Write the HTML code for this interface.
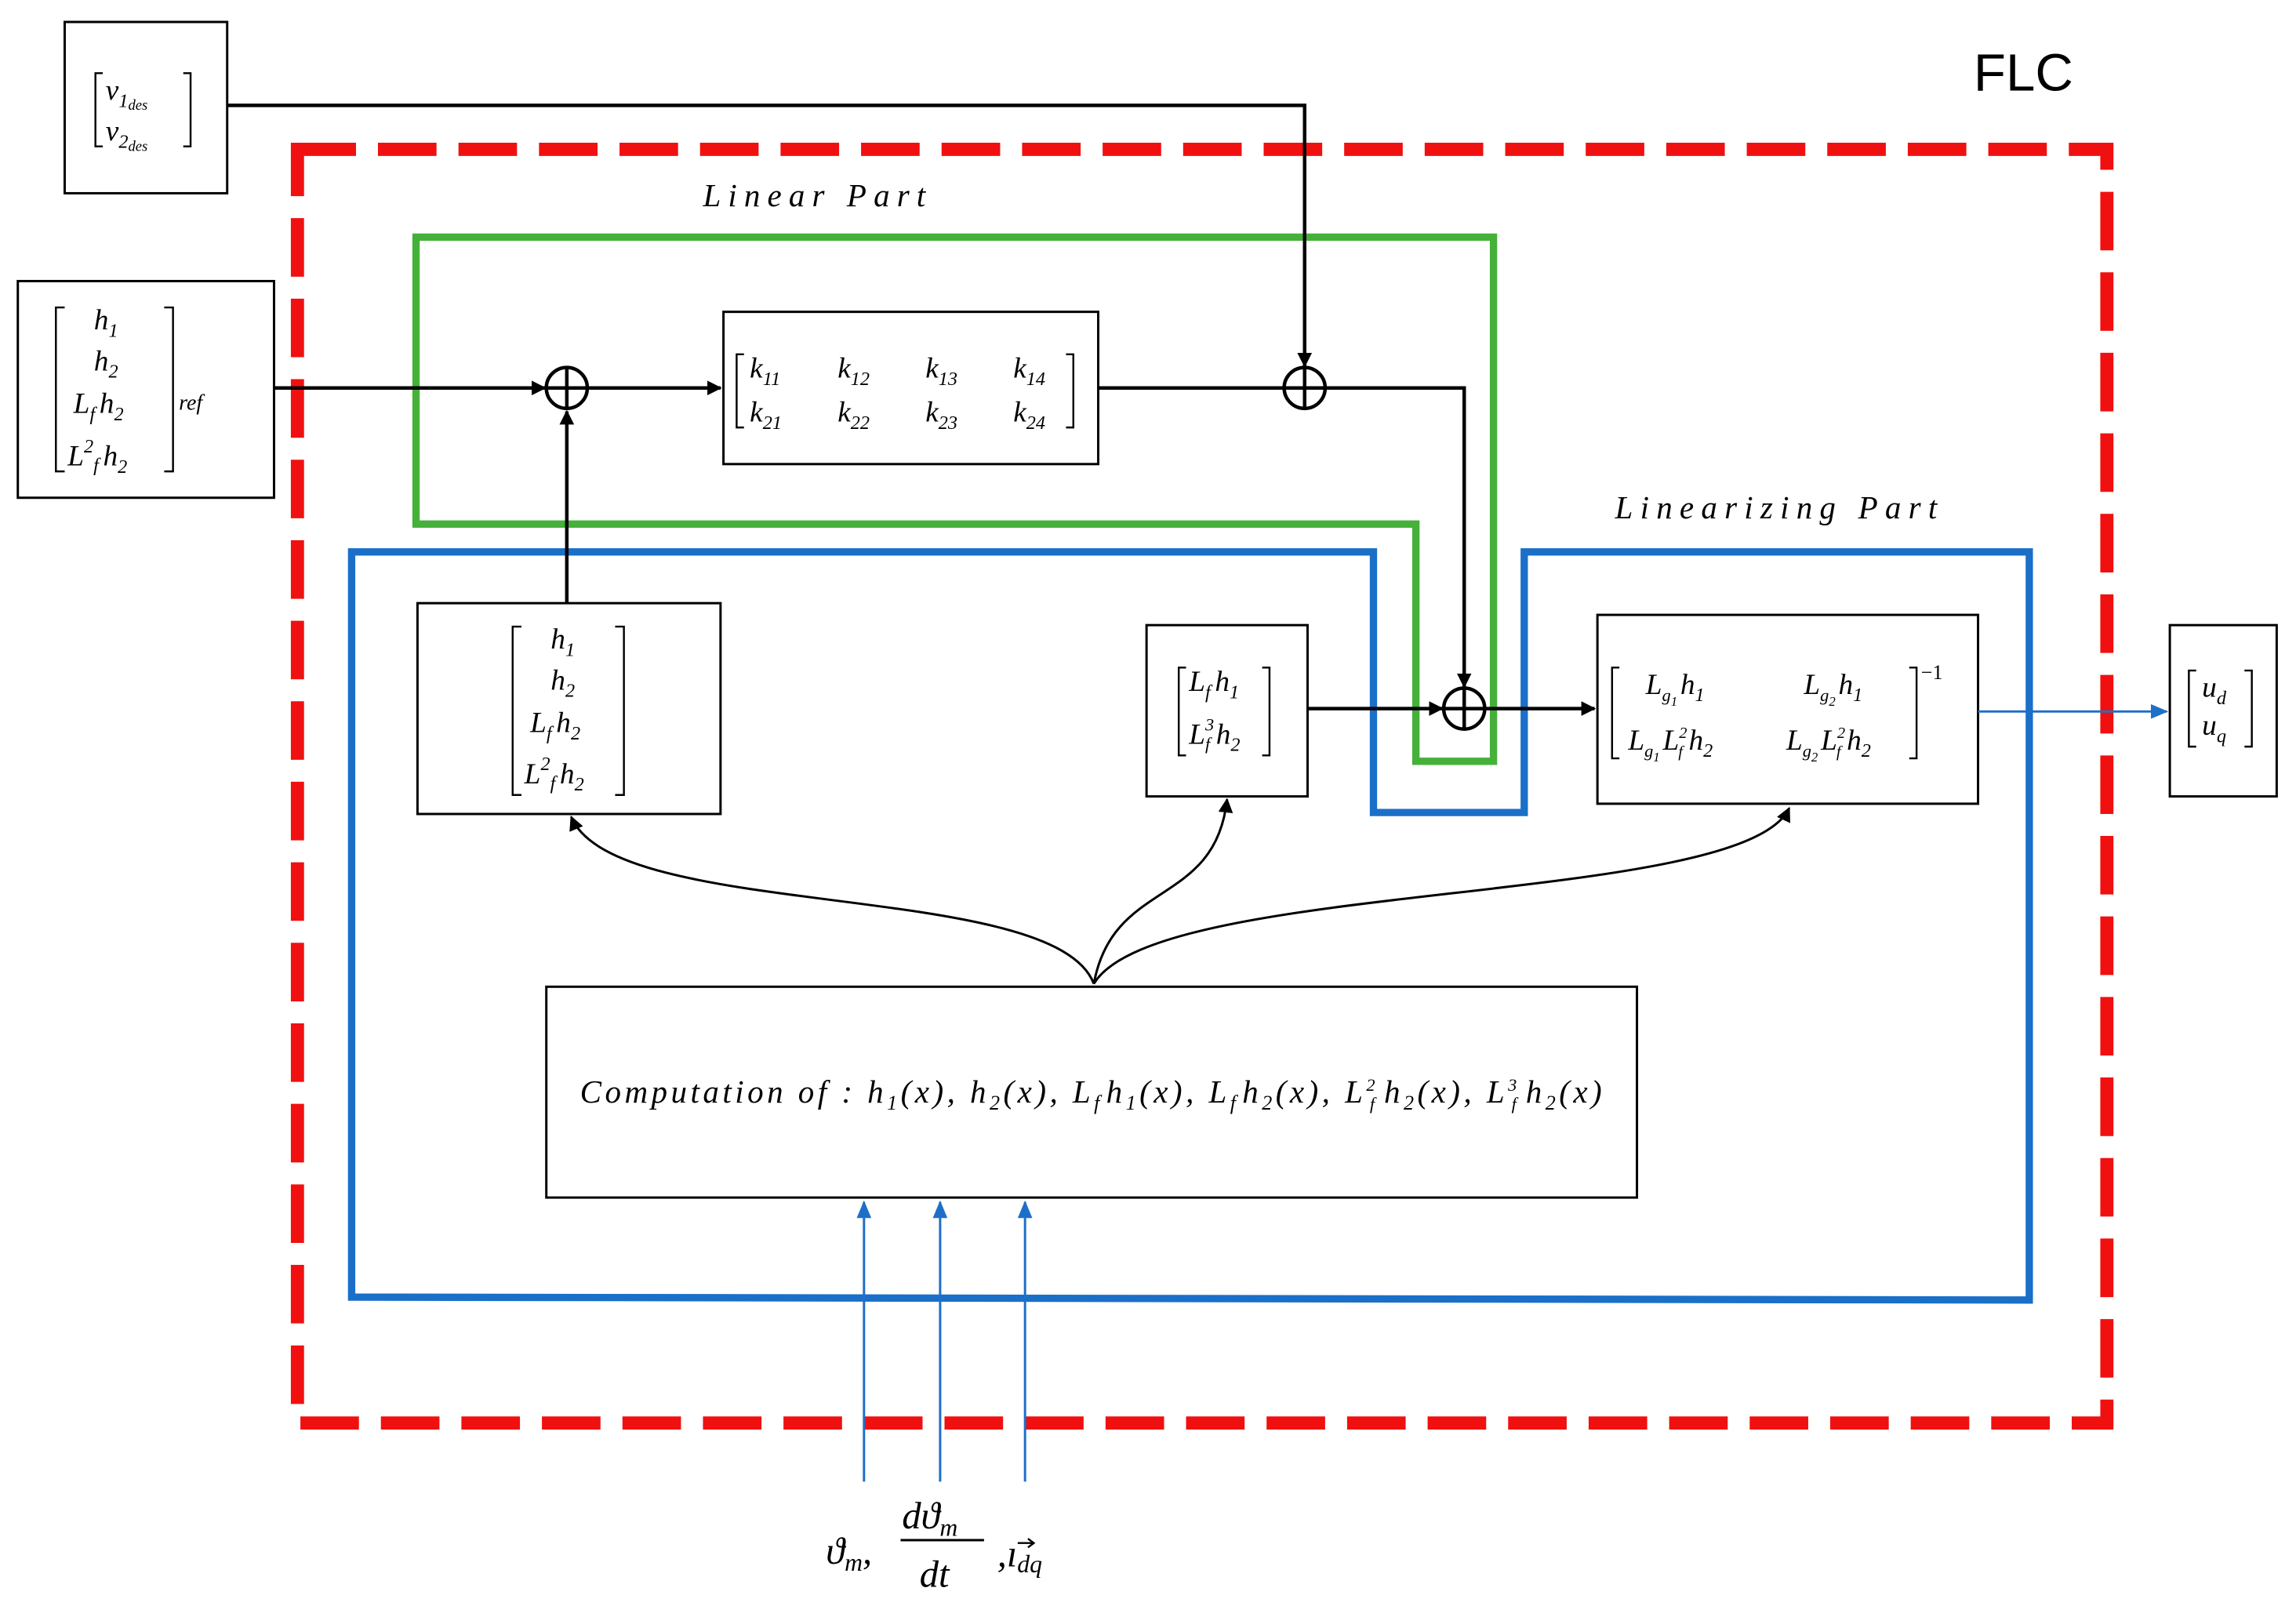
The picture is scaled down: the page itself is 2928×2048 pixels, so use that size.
<!DOCTYPE html>
<html><head><meta charset="utf-8"><style>
html,body{margin:0;padding:0;background:#fff;}
svg{display:block;}
text{font-family:"Liberation Serif",serif;font-style:italic;fill:#000;}
.s{font-family:"Liberation Sans",sans-serif;}
</style></head><body>
<svg width="2928" height="2048" viewBox="0 0 1568 1097" xmlns="http://www.w3.org/2000/svg">
<defs>
<marker id="a" markerWidth="10" markerHeight="10" refX="9" refY="5" orient="auto" markerUnits="userSpaceOnUse"><path d="M0,0 L10,5 L0,10 z" fill="#000"/></marker>
<marker id="b" markerWidth="12" markerHeight="10" refX="11" refY="5" orient="auto" markerUnits="userSpaceOnUse"><path d="M0,0 L12,5 L0,10 z" fill="#1e6fc7"/></marker>
</defs>
<rect width="1568" height="1097" fill="#fff"/>
<rect x="203" y="102" width="1236" height="870" fill="none" stroke="#f01010" stroke-width="9" stroke-dasharray="40,15"/>
<text class="s" x="1348" y="62" font-size="36" style="font-style:normal">FLC</text>
<text x="480" y="141" font-size="22" textLength="152" lengthAdjust="spacing">Linear Part</text>
<text x="1103" y="354" font-size="22" textLength="220" lengthAdjust="spacing">Linearizing Part</text>
<path d="M284,162 L1020,162 L1020,520 L967,520 L967,358 L284,358 Z" fill="none" stroke="#45b03a" stroke-width="5"/>
<path d="M240,377 L938,377 L938,555 L1041,555 L1041,377 L1386,377 L1386,888 L240,886 Z" fill="none" stroke="#1a6fc8" stroke-width="5"/>
<g fill="#fff" stroke="#000" stroke-width="1.6">
<rect x="44" y="15" width="111" height="117"/>
<rect x="12" y="192" width="175" height="148"/>
<rect x="494" y="213" width="256" height="104"/>
<rect x="285" y="412" width="207" height="144"/>
<rect x="783" y="427" width="110" height="117"/>
<rect x="1091" y="420" width="260" height="129"/>
<rect x="1482" y="427" width="73" height="117"/>
<rect x="373" y="674" width="745" height="144"/>
</g>
<g fill="none" stroke="#000" stroke-width="2.4">
<path d="M155,72 L891,72 L891,250" marker-end="url(#a)"/>
<path d="M187,265 L372,265" marker-end="url(#a)"/>
<path d="M401,265 L492,265" marker-end="url(#a)"/>
<path d="M750,265 L877,265"/>
<path d="M905,265 L1000,265 L1000,469" marker-end="url(#a)"/>
<path d="M387,412 L387,281" marker-end="url(#a)"/>
<path d="M893,484 L985,484" marker-end="url(#a)"/>
<path d="M1014,484 L1089,484" marker-end="url(#a)"/>
</g>
<g fill="none" stroke="#000" stroke-width="1.6">
<path d="M747,672 C720,600 420,630 390,558" marker-end="url(#a)"/>
<path d="M747,672 C760,600 830,620 838,546" marker-end="url(#a)"/>
<path d="M747,672 C790,600 1190,620 1222,552" marker-end="url(#a)"/>
</g>
<g fill="#fff" stroke="#000" stroke-width="2.4">
<circle cx="387" cy="265" r="14"/><path d="M373,265 H401 M387,251 V279"/>
<circle cx="891" cy="265" r="14"/><path d="M877,265 H905 M891,251 V279"/>
<circle cx="1000" cy="484" r="14"/><path d="M986,484 H1014 M1000,470 V498"/>
</g>
<g stroke="#1e6fc7" stroke-width="1.6" fill="none">
<path d="M1351,486 L1480,486" marker-end="url(#b)"/>
<path d="M590,1012 L590,821" marker-end="url(#b)"/>
<path d="M642,1012 L642,821" marker-end="url(#b)"/>
<path d="M700,1012 L700,821" marker-end="url(#b)"/>
</g>
<g fill="none" stroke="#000" stroke-width="1.3">
<path d="M70,50 h-5 v50 h5 M125,50 h5 v50 h-5"/>
<path d="M44,210 h-6 v112 h6 M112,210 h6 v112 h-6"/>
<path d="M508,242 h-5 v50 h5 M728,242 h5 v50 h-5"/>
<path d="M356,428 h-6 v115 h6 M420,428 h6 v115 h-6"/>
<path d="M810,456 h-5 v60 h5 M862,456 h5 v60 h-5"/>
<path d="M1106,456 h-5 v62 h5 M1304,456 h5 v62 h-5"/>
<path d="M1500,458 h-5 v52 h5 M1533,458 h5 v52 h-5"/>
</g>
<g font-size="20">
<text x="72" y="68">v<tspan font-size="13" dy="5">1</tspan><tspan font-size="10" dy="2">des</tspan></text>
<text x="72" y="96">v<tspan font-size="13" dy="5">2</tspan><tspan font-size="10" dy="2">des</tspan></text>
<text x="64" y="225">h<tspan font-size="13" dy="5">1</tspan></text>
<text x="64" y="253">h<tspan font-size="13" dy="5">2</tspan></text>
<text x="50" y="282">L<tspan font-size="13" dy="5">f</tspan><tspan dx="3" dy="-5">h</tspan><tspan font-size="13" dy="5">2</tspan></text>
<text x="46" y="318">L<tspan font-size="13" dy="-9">2</tspan><tspan font-size="13" dy="13">f</tspan><tspan dx="3" dy="-4">h</tspan><tspan font-size="13" dy="5">2</tspan></text>
<text x="122" y="280" font-size="15">ref</text>
<text x="512" y="258">k<tspan font-size="13" dy="5">11</tspan></text>
<text x="572" y="258">k<tspan font-size="13" dy="5">12</tspan></text>
<text x="632" y="258">k<tspan font-size="13" dy="5">13</tspan></text>
<text x="692" y="258">k<tspan font-size="13" dy="5">14</tspan></text>
<text x="512" y="288">k<tspan font-size="13" dy="5">21</tspan></text>
<text x="572" y="288">k<tspan font-size="13" dy="5">22</tspan></text>
<text x="632" y="288">k<tspan font-size="13" dy="5">23</tspan></text>
<text x="692" y="288">k<tspan font-size="13" dy="5">24</tspan></text>
<text x="376" y="443">h<tspan font-size="13" dy="5">1</tspan></text>
<text x="376" y="471">h<tspan font-size="13" dy="5">2</tspan></text>
<text x="362" y="500">L<tspan font-size="13" dy="5">f</tspan><tspan dx="3" dy="-5">h</tspan><tspan font-size="13" dy="5">2</tspan></text>
<text x="358" y="535">L<tspan font-size="13" dy="-9">2</tspan><tspan font-size="13" dy="13">f</tspan><tspan dx="3" dy="-4">h</tspan><tspan font-size="13" dy="5">2</tspan></text>
<text x="812" y="472">L<tspan font-size="13" dy="5">f</tspan><tspan dx="3" dy="-5">h</tspan><tspan font-size="13" dy="5">1</tspan></text>
<text x="812" y="508">L<tspan font-size="12" dy="-9">3</tspan><tspan font-size="12" dx="-6" dy="13">f</tspan><tspan dx="4" dy="-4">h</tspan><tspan font-size="13" dy="5">2</tspan></text>
<text x="1124" y="474">L<tspan font-size="12" dy="5">g</tspan><tspan font-size="9" dy="3">1</tspan><tspan dx="2" dy="-8">h</tspan><tspan font-size="13" dy="5">1</tspan></text>
<text x="1232" y="474">L<tspan font-size="12" dy="5">g</tspan><tspan font-size="9" dy="3">2</tspan><tspan dx="2" dy="-8">h</tspan><tspan font-size="13" dy="5">1</tspan></text>
<text x="1112" y="512">L<tspan font-size="12" dy="5">g</tspan><tspan font-size="9" dy="3">1</tspan><tspan dx="2" dy="-8">L</tspan><tspan font-size="11" dy="-8">2</tspan><tspan font-size="11" dx="-6" dy="13">f</tspan><tspan dx="4" dy="-5">h</tspan><tspan font-size="13" dy="5">2</tspan></text>
<text x="1220" y="512">L<tspan font-size="12" dy="5">g</tspan><tspan font-size="9" dy="3">2</tspan><tspan dx="2" dy="-8">L</tspan><tspan font-size="11" dy="-8">2</tspan><tspan font-size="11" dx="-6" dy="13">f</tspan><tspan dx="4" dy="-5">h</tspan><tspan font-size="13" dy="5">2</tspan></text>
<text x="1312" y="464" font-size="14" style="font-style:normal">−1</text>
<text x="1504" y="476">u<tspan font-size="13" dy="5">d</tspan></text>
<text x="1504" y="502">u<tspan font-size="13" dy="5">q</tspan></text>
</g>
<text x="396" y="753" font-size="22" textLength="698" lengthAdjust="spacing">Computation of :  h<tspan font-size="14" dy="5">1</tspan><tspan dy="-5">(x), h</tspan><tspan font-size="14" dy="5">2</tspan><tspan dy="-5">(x), L</tspan><tspan font-size="14" dy="5">f</tspan><tspan dx="2" dy="-5">h</tspan><tspan font-size="14" dy="5">1</tspan><tspan dy="-5">(x), L</tspan><tspan font-size="14" dy="5">f</tspan><tspan dx="2" dy="-5">h</tspan><tspan font-size="14" dy="5">2</tspan><tspan dy="-5">(x), L</tspan><tspan font-size="12" dy="-8">2</tspan><tspan font-size="12" dx="-6" dy="13">f</tspan><tspan dx="4" dy="-5">h</tspan><tspan font-size="14" dy="5">2</tspan><tspan dy="-5">(x), L</tspan><tspan font-size="12" dy="-8">3</tspan><tspan font-size="12" dx="-6" dy="13">f</tspan><tspan dx="4" dy="-5">h</tspan><tspan font-size="14" dy="5">2</tspan><tspan dy="-5">(x)</tspan></text>
<g font-size="26">
<text x="564" y="1068">ϑ<tspan font-size="17" dy="5">m</tspan><tspan dy="-5">,</tspan></text>
<text x="616" y="1044">dϑ<tspan font-size="17" dy="5">m</tspan></text>
<line x1="615" y1="1052" x2="672" y2="1052" stroke="#000" stroke-width="1.6"/>
<text x="628" y="1084">dt</text>
<text x="681" y="1070">,ı<tspan font-size="17" dy="4">dq</tspan></text>
</g>
<path d="M695,1054 h10 M702,1051 l4,3 l-4,3" fill="none" stroke="#000" stroke-width="1.3"/>
</svg>
</body></html>
